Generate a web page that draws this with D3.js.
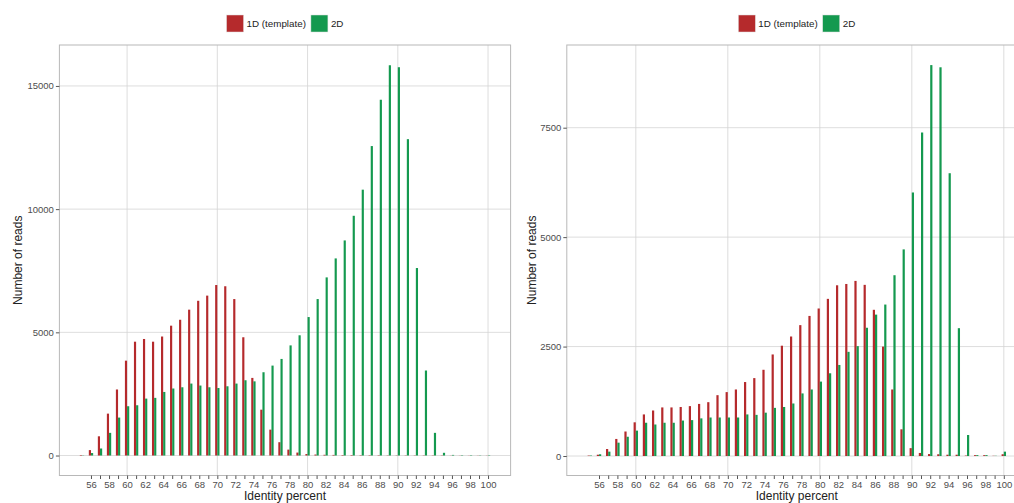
<!DOCTYPE html>
<html>
<head>
<meta charset="utf-8">
<script src="https://cdn.jsdelivr.net/npm/d3@7"></script>
<style>
  html, body { margin: 0; padding: 0; background: #fff; }
  svg { display: block; font-family: "Liberation Sans", Arial, sans-serif; }
</style>
</head>
<body>
<svg id="chart" width="1014" height="503"></svg>
<script>
// ---------- DATA ----------
const identity = [55,56,57,58,59,60,61,62,63,64,65,66,67,68,69,70,71,72,73,74,75,76,77,78,79,80,81,82,83,84,85,86,87,88,89,90,91,92,93,94,95,96,97,98,99,100];
const seriesNames = ["1D (template)", "2D"];
const seriesColors = ["#b52a2c", "#14994f"];

// Left panel
const left1D = [20,220,780,1700,2680,3850,4620,4730,4620,4830,5270,5510,5920,6280,6490,6920,6870,6350,4800,3150,1860,1050,540,240,120,60,40,30,25,20,20,15,15,15,10,10,10,10,10,10,10,5,5,5,5,5];
const left2D = [10,100,285,920,1540,2000,2040,2310,2340,2580,2720,2770,2920,2840,2770,2740,2810,2920,3055,3010,3380,3650,3920,4470,4880,5620,6350,7230,8000,8730,9730,10790,12560,14440,15840,15760,12840,7610,3450,920,110,25,15,15,10,15];
const leftYTicks = [0, 5000, 10000, 15000];

// Right panel
const right1D = [10,30,160,390,560,770,950,1040,1110,1110,1120,1140,1190,1230,1390,1460,1520,1690,1780,1970,2320,2520,2730,2990,3200,3370,3590,3900,3930,4000,3910,3340,2500,1520,610,180,70,45,40,30,30,10,20,20,5,40];
const right2D = [10,40,100,305,440,580,760,720,760,760,810,820,860,880,880,880,880,950,940,990,1100,1120,1200,1430,1520,1700,1890,2080,2380,2510,2930,3230,3460,4130,4720,6020,7390,8930,8880,6460,2920,480,20,20,5,100];
const rightYTicks = [0, 2500, 5000, 7500];

const xTicks = [56,57,58,59,60,61,62,63,64,65,66,67,68,69,70,71,72,73,74,75,76,77,78,79,80,81,82,83,84,85,86,87,88,89,90,91,92,93,94,95,96,97,98,99,100];
const xGrid = [60, 70, 80, 90, 100];
const xLabel = "Identity percent";
const yLabel = "Number of reads";

// ---------- DRAW ----------
const svg = d3.select("#chart");

function drawPanel(cfg) {
  const g = svg.append("g");
  const x = d3.scaleLinear().domain([52.5, 102.5]).range([cfg.x0, cfg.x1]);
  const y = d3.scaleLinear().domain(cfg.yDomain).range([475.5, 45]);
  const top = 45, bottom = 475.5;

  const clipId = "clip" + cfg.id;
  svg.append("clipPath").attr("id", clipId)
    .append("rect").attr("x", cfg.x0).attr("y", top)
    .attr("width", cfg.x1 - cfg.x0).attr("height", bottom - top);

  g.append("rect").attr("x", cfg.x0).attr("y", top)
    .attr("width", cfg.x1 - cfg.x0).attr("height", bottom - top)
    .attr("fill", "#fff");

  // gridlines
  g.append("g").selectAll("line").data(cfg.yTicks).join("line")
    .attr("x1", cfg.x0).attr("x2", cfg.x1)
    .attr("y1", d => y(d)).attr("y2", d => y(d))
    .attr("stroke", "#d4d4d4").attr("stroke-width", 0.8);
  g.append("g").selectAll("line").data(xGrid).join("line")
    .attr("x1", d => x(d)).attr("x2", d => x(d))
    .attr("y1", top).attr("y2", bottom)
    .attr("stroke", "#d4d4d4").attr("stroke-width", 0.8);

  // bars
  const bw = 0.24;
  const bars = g.append("g").attr("clip-path", `url(#${clipId})`);
  [cfg.s1, cfg.s2].forEach((vals, si) => {
    const off = si === 0 ? -bw : 0;
    bars.append("g").selectAll("rect").data(identity.map((v, i) => ({v, n: vals[i]}))).join("rect")
      .attr("x", d => x(d.v + off))
      .attr("width", x(bw) - x(0))
      .attr("y", d => y(d.n))
      .attr("height", d => Math.max(0, y(0) - y(d.n)))
      .attr("fill", seriesColors[si]);
  });

  // border
  g.append("rect").attr("x", cfg.x0).attr("y", top)
    .attr("width", cfg.x1 - cfg.x0).attr("height", bottom - top)
    .attr("fill", "none").attr("stroke", "#b8b8b8").attr("stroke-width", 1);

  // x axis
  const xAxis = d3.axisBottom(x).tickValues(xTicks)
    .tickFormat(d => d % 2 === 0 ? d : "").tickSize(3.5).tickPadding(2);
  const xa = g.append("g").attr("transform", `translate(0,${bottom})`).call(xAxis);
  xa.select(".domain").remove();
  xa.selectAll(".tick line").attr("stroke", "#555");
  xa.selectAll(".tick text").attr("fill", "#4d4d4d").style("font-size", "9.5px")
    .style("font-family", "Liberation Sans, Arial, sans-serif");

  // y axis
  const yAxis = d3.axisLeft(y).tickValues(cfg.yTicks).tickFormat(d3.format("d"))
    .tickSize(3.5).tickPadding(2);
  const ya = g.append("g").attr("transform", `translate(${cfg.x0},0)`).call(yAxis);
  ya.select(".domain").remove();
  ya.selectAll(".tick line").attr("stroke", "#555");
  ya.selectAll(".tick text").attr("fill", "#4d4d4d").style("font-size", "9.5px")
    .style("font-family", "Liberation Sans, Arial, sans-serif");

  // axis titles
  const cx = (cfg.x0 + cfg.x1) / 2;
  g.append("text").attr("x", cx).attr("y", 500).attr("text-anchor", "middle")
    .attr("fill", "#222").style("font-size", "12px").text(xLabel);
  g.append("text").attr("transform", `translate(${cfg.yTitleX},${(top + bottom) / 2}) rotate(-90)`)
    .attr("text-anchor", "middle").attr("fill", "#222").style("font-size", "12px").text(yLabel);

  // legend
  const lg = g.append("g");
  const key = 17;
  const items = [];
  seriesNames.forEach((name, i) => {
    const it = lg.append("g");
    it.append("rect").attr("x", 0).attr("y", 15).attr("width", key).attr("height", key)
      .attr("fill", seriesColors[i]).attr("stroke", "#e0e0e0").attr("stroke-width", 0.5);
    const t = it.append("text").attr("x", key + 3).attr("y", 23.5).attr("dy", "0.35em")
      .attr("fill", "#222").style("font-size", "9.8px").text(name);
    const w = key + 3 + t.node().getComputedTextLength();
    items.push({it, w});
  });
  const gap = 5;
  const total = items.reduce((s, d) => s + d.w, 0) + gap * (items.length - 1);
  let pos = cx - total / 2;
  items.forEach(d => { d.it.attr("transform", `translate(${pos},0)`); pos += d.w + gap; });
}

drawPanel({id: "L", x0: 59.4, x1: 510.6, yDomain: [-811, 16662], yTicks: leftYTicks,
           s1: left1D, s2: left2D, yTitleX: 22});
drawPanel({id: "R", x0: 566.8, x1: 1026.8, yDomain: [-445, 9389], yTicks: rightYTicks,
           s1: right1D, s2: right2D, yTitleX: 536});
</script>
</body>
</html>
